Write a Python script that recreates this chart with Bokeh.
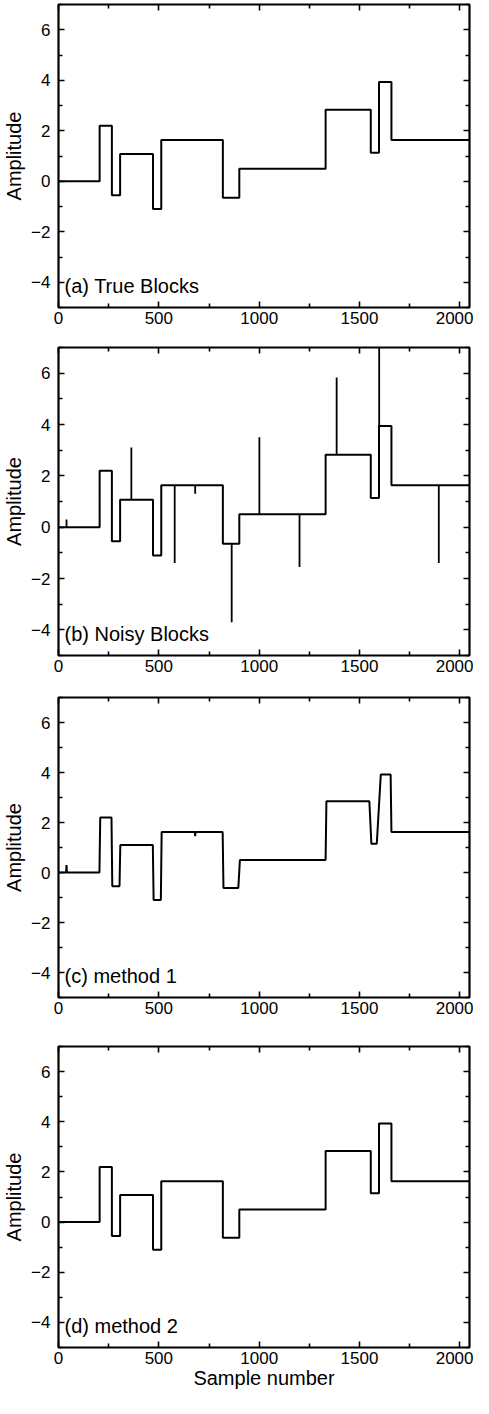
import numpy as np
from bokeh.plotting import figure
from bokeh.layouts import column
from bokeh.models import LinearAxis, FixedTicker, Range1d, CustomLabelingPolicy
from bokeh.embed import file_html
from bokeh.resources import INLINE
from bokeh.core.properties import value

# ---------------- data ----------------
block_edges = [0, 205, 266, 307, 471, 512, 819, 901, 1331, 1556, 1597, 1659, 2048]
true_levels = [0.0, 2.2, -0.55, 1.08, -1.1, 1.63, -0.65, 0.5, 2.83, 1.13, 3.93, 1.63, 1.63]
noisy_levels = [0.0, 2.2, -0.55, 1.07, -1.1, 1.63, -0.65, 0.5, 2.82, 1.14, 3.94, 1.63, 1.63]
spike_x = [40, 363, 579, 681, 863, 1001, 1201, 1386, 1598, 1895]
spike_y = [0.3, 3.1, -1.4, 1.3, -3.7, 3.5, -1.55, 5.83, 7.6, -1.4]
m1_x = [0, 38, 40, 42, 204, 208, 264, 268, 304, 308, 470, 474, 510, 514, 679, 681, 683,
        818, 822, 896, 904, 1331, 1335, 1549, 1559, 1586, 1606, 1655, 1659, 2048]
m1_y = [0, 0, 0.3, 0, 0, 2.2, 2.2, -0.55, -0.55, 1.1, 1.1, -1.1, -1.1, 1.62, 1.62, 1.45, 1.62,
        1.62, -0.62, -0.62, 0.5, 0.5, 2.85, 2.85, 1.15, 1.15, 3.92, 3.92, 1.62, 1.62]
m2_levels = [0.0, 2.2, -0.55, 1.08, -1.1, 1.63, -0.62, 0.5, 2.83, 1.15, 3.93, 1.63, 1.63]

panel_labels = ["(a) True Blocks", "(b) Noisy Blocks", "(c) method 1", "(d) method 2"]
x_major = [0, 500, 1000, 1500, 2000]
x_minor = [250, 750, 1250, 1750]
y_major = [-4, -2, 0, 2, 4, 6]
y_minor = [-5, -3, -1, 1, 3, 5, 7]
x_label = "Sample number"
y_label = "Amplitude"

FONT = "Liberation Sans"


def make_fig(height, top, bottom, left, label, xlabel=None):
    p = figure(width=473, height=height, output_backend="svg", toolbar_location=None,
               x_range=Range1d(0, 2048), y_range=Range1d(-5, 7),
               min_border_top=top, min_border_bottom=bottom,
               min_border_left=left, min_border_right=4,
               x_axis_label=xlabel, y_axis_label=y_label)
    p.grid.visible = False
    p.outline_line_color = "black"
    p.outline_line_width = 2.2
    p.outline_line_alpha = 1
    p.background_fill_color = "white"
    p.border_fill_color = "white"
    p.xaxis.ticker = FixedTicker(ticks=x_major, minor_ticks=x_minor)
    p.yaxis.ticker = FixedTicker(ticks=y_major, minor_ticks=y_minor)
    # mirrored axes (ticks only, no labels)
    top_ax = LinearAxis(ticker=FixedTicker(ticks=x_major, minor_ticks=x_minor),
                        major_label_text_font_size="1px", major_label_standoff=0,
                        major_label_policy=CustomLabelingPolicy(code="return []"))
    right_ax = LinearAxis(ticker=FixedTicker(ticks=y_major, minor_ticks=y_minor),
                          major_label_text_font_size="1px", major_label_standoff=0,
                          major_label_policy=CustomLabelingPolicy(code="return []"))
    p.add_layout(top_ax, "above")
    p.add_layout(right_ax, "right")
    for ax in p.axis:
        ax.axis_line_color = None
        ax.major_tick_in = 6
        ax.major_tick_out = 0
        ax.minor_tick_in = 4
        ax.minor_tick_out = 0
        ax.major_tick_line_color = "black"
        ax.minor_tick_line_color = "black"
        ax.major_tick_line_width = 1.6
        ax.minor_tick_line_width = 1.6
    bx = p.below[0]
    bx.major_label_text_font = FONT
    bx.major_label_text_font_size = "17px"
    bx.major_label_text_color = "black"
    bx.major_label_standoff = 4
    bx.axis_label_text_font = FONT
    bx.axis_label_text_font_size = "20px"
    bx.axis_label_text_font_style = "normal"
    bx.axis_label_text_color = "black"
    bx.axis_label_standoff = 0
    ly = p.left[0]
    ly.major_label_text_font = FONT
    ly.major_label_text_font_size = "17px"
    ly.major_label_text_color = "black"
    ly.major_label_standoff = 8
    ly.axis_label_text_font = FONT
    ly.axis_label_text_font_size = "20px"
    ly.axis_label_text_font_style = "normal"
    ly.axis_label_text_color = "black"
    ly.axis_label_standoff = 3
    p.text(x=[0], y=[-4.15], text=[label], x_offset=6, text_baseline="middle",
           text_align="left", text_font=value(FONT), text_font_size="20px",
           text_color="black")
    return p


# (a) true blocks
pa = make_fig(340, 1, 33, 49, panel_labels[0])
pa.step(block_edges, true_levels, mode="after", line_color="black", line_width=2)

# (b) noisy blocks
pb = make_fig(349, 7, 34, 46, panel_labels[1])
pb.step(block_edges, noisy_levels, mode="after", line_color="black", line_width=2)
idx = np.searchsorted(block_edges, spike_x, side="right") - 1
spike_base = [noisy_levels[i] for i in idx]
pb.segment(x0=spike_x, y0=spike_base, x1=spike_x, y1=spike_y, line_color="black", line_width=1.8)

# (c) method 1
pc = make_fig(342, 8, 34, 46, panel_labels[2])
pc.line(m1_x, m1_y, line_color="black", line_width=2)

# (d) method 2
pd_ = make_fig(367, 15, 51, 46, panel_labels[3], xlabel=x_label)
pd_.step(block_edges, m2_levels, mode="after", line_color="black", line_width=2)

layout = column(pa, pb, pc, pd_, spacing=0)
open("out.html", "w").write(file_html(layout, INLINE))
